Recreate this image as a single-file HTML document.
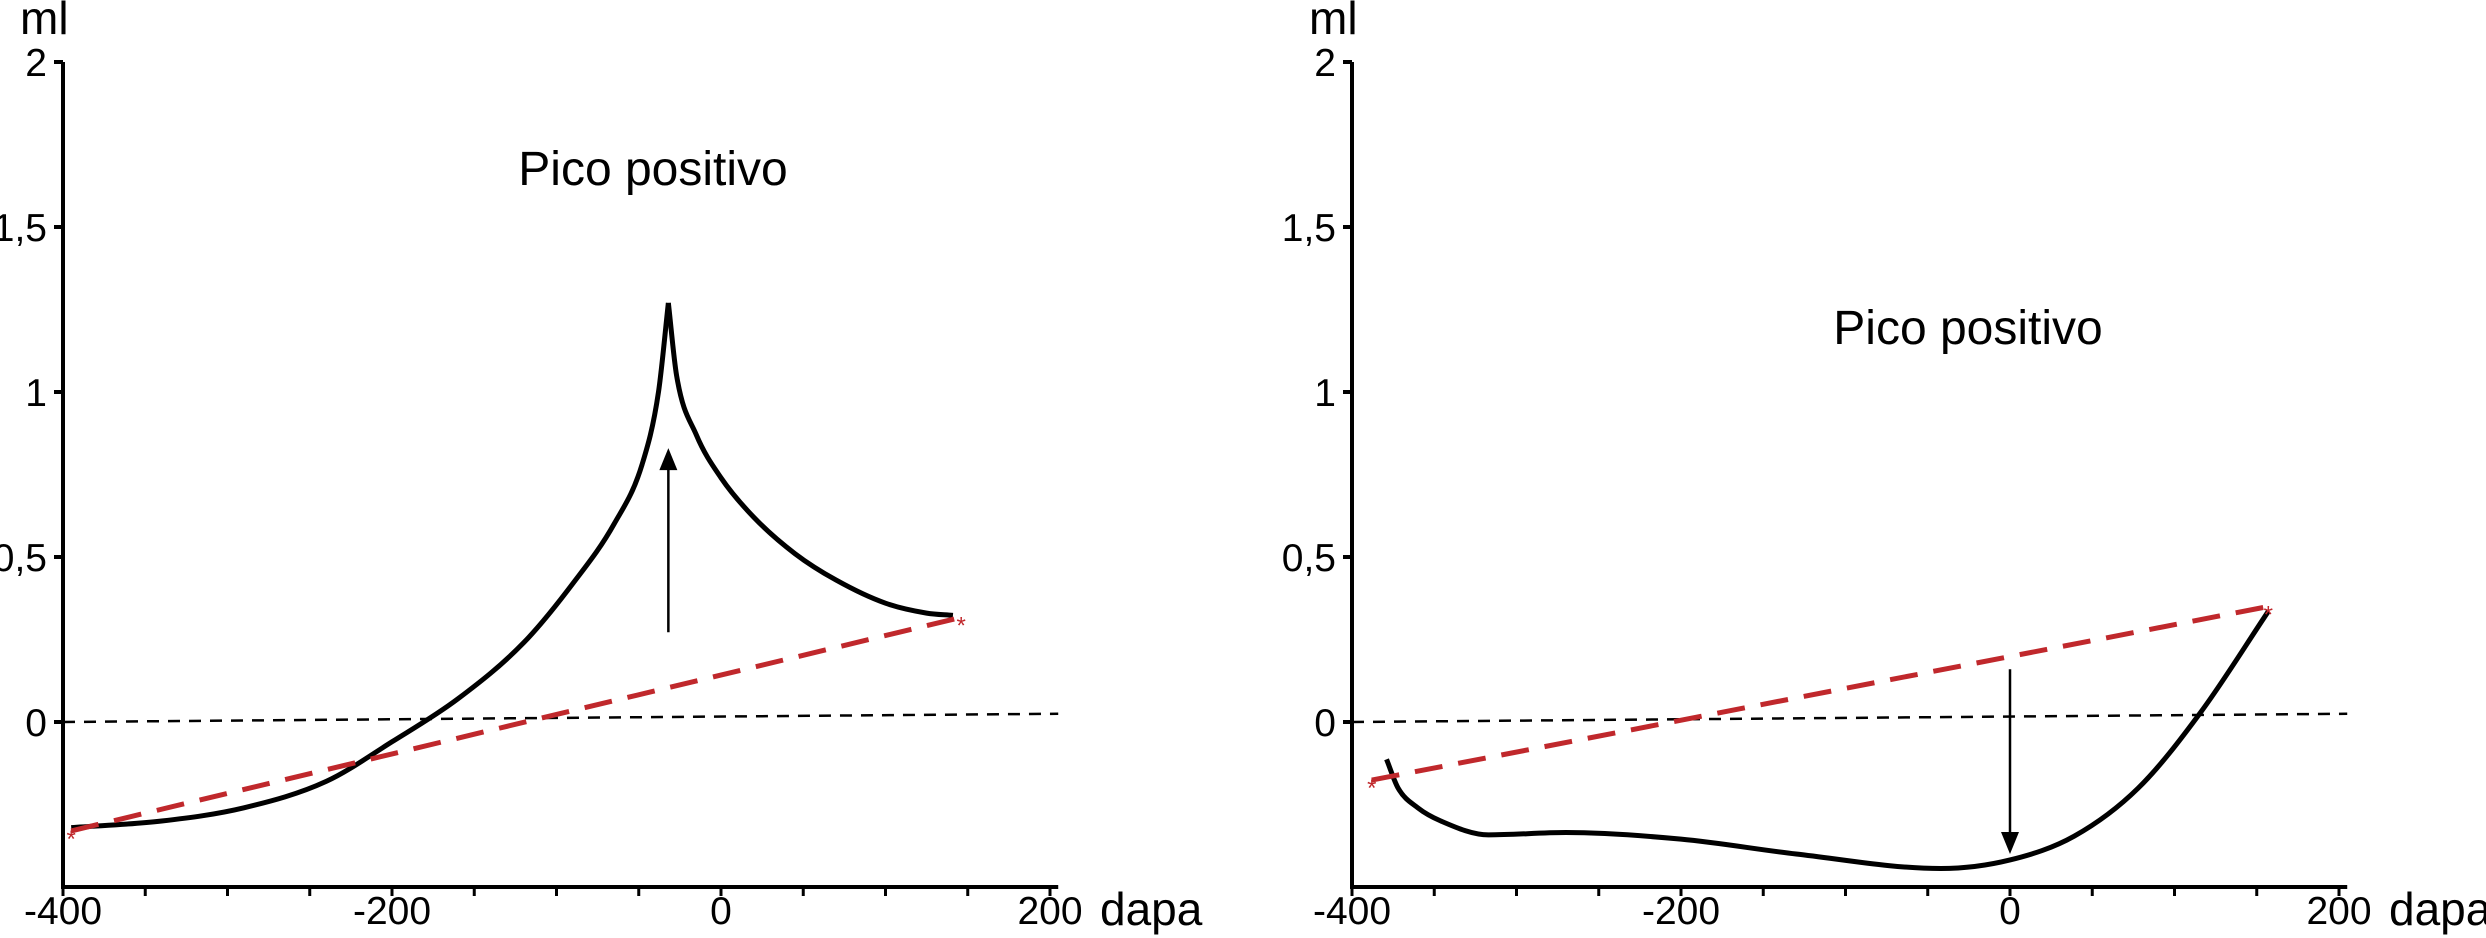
<!DOCTYPE html>
<html><head><meta charset="utf-8"><style>
html,body{margin:0;padding:0;background:#fff;}
svg{display:block;font-family:"Liberation Sans",Arial,sans-serif;}
</style></head><body>
<svg id="c" width="2486" height="938" viewBox="0 0 2486 938" xmlns="http://www.w3.org/2000/svg"></svg>
<script>
const xTicks=[-400,-350,-300,-250,-200,-150,-100,-50,0,50,100,150,200];
const xLabels=[-400,-200,0,200];
const yTicks=[2,1.5,1,0.5,0];
const yLabels=["2","1,5","1","0,5","0"];
const leftCurveA=[[-395,-0.32],[-340,-0.3],[-290,-0.26],[-240,-0.18],[-200,-0.06],[-160,0.07],[-120,0.24],[-90,0.42],[-65,0.6],[-48,0.78],[-38,1.0],[-32,1.27]];
const leftCurveB=[[-32,1.27],[-27,1.05],[-15,0.87],[0,0.74],[20,0.62],[45,0.51],[70,0.43],[100,0.36],[125,0.33],[141,0.323]];
const leftRed=[[-395,-0.33],[146,0.317]];
const leftArrow=[[-32,0.272],[-32,0.83]];
const rightCurve=[[-379,-0.113],[-372,-0.2],[-360,-0.26],[-346,-0.3],[-317,-0.342],[-270,-0.335],[-200,-0.355],[-130,-0.4],[-42,-0.444],[0,-0.418],[39,-0.346],[78,-0.2],[116,0.03],[157,0.335]];
const rightRed=[[-388,-0.176],[157,0.35]];
const rightArrow=[[0,0.16],[0,-0.4]];
const baseline=[[-400,0],[205,0.025]];
const panels=[{x0:63,title:[653,185],curves:[leftCurveA,leftCurveB],red:leftRed,arrow:leftArrow,name:'left'},
{x0:1352,title:[1968,344],curves:[rightCurve],red:rightRed,arrow:rightArrow,name:'right'}];
const NS='http://www.w3.org/2000/svg';
const svg=document.getElementById('c');
function mk(t,a,p){const e=document.createElementNS(NS,t);for(const k in a)e.setAttribute(k,a[k]);(p||svg).appendChild(e);return e;}
// monotone cubic (Fritsch-Carlson) in x, returns path
function mono(pts){const n=pts.length,xs=pts.map(p=>p[0]),ys=pts.map(p=>p[1]);const d=[],m=[];
for(let i=0;i<n-1;i++)d.push((ys[i+1]-ys[i])/(xs[i+1]-xs[i]));
m[0]=d[0];m[n-1]=d[n-2];for(let i=1;i<n-1;i++){m[i]=(d[i-1]*d[i]<=0)?0:(d[i-1]+d[i])/2;}
for(let i=0;i<n-1;i++){if(d[i]===0){m[i]=0;m[i+1]=0;continue;}const a=m[i]/d[i],b=m[i+1]/d[i],s=a*a+b*b;if(s>9){const t=3/Math.sqrt(s);m[i]=t*a*d[i];m[i+1]=t*b*d[i];}}
let p='M'+xs[0]+','+ys[0];for(let i=0;i<n-1;i++){const h=(xs[i+1]-xs[i])/3;p+=' C'+(xs[i]+h)+','+(ys[i]+m[i]*h)+' '+(xs[i+1]-h)+','+(ys[i+1]-m[i+1]*h)+' '+xs[i+1]+','+ys[i+1];}return p;}
panels.forEach(P=>{
 const sx=v=>P.x0+(v+400)*1.645, sy=v=>722-v*330;
 const g=mk('g',{});
 
 
 const ya=mk('line',{x1:sx(-400),y1:sy(2),x2:sx(-400),y2:sy(-0.5),stroke:'#000','stroke-width':4},g);
 
 const xa=mk('line',{x1:sx(-400)-2,y1:sy(-0.5),x2:sx(205),y2:sy(-0.5),stroke:'#000','stroke-width':4},g);
 
 yTicks.forEach((v,i)=>{
  const t=mk('line',{x1:sx(-400)-9,y1:sy(v),x2:sx(-400),y2:sy(v),stroke:'#000','stroke-width':4},g);
  
  const l=mk('text',{x:sx(-400)-16,y:sy(v)+14,'font-size':39,'text-anchor':'end'},g);l.textContent=yLabels[i];
  
 });
 xTicks.forEach(v=>{
  const t=mk('line',{x1:sx(v),y1:sy(-0.5),x2:sx(v),y2:sy(-0.5)+9,stroke:'#000','stroke-width':3},g);
  
 });
 xLabels.forEach(v=>{
  const l=mk('text',{x:sx(v),y:924,'font-size':39,'text-anchor':'middle'},g);l.textContent=String(v);
  
 });
 const ml=mk('text',{x:sx(-400)-43,y:34,'font-size':46},g);ml.textContent='ml';
 
 const dp=mk('text',{x:sx(200)+50,y:925,'font-size':46},g);dp.textContent='dapa';
 
 const ti=mk('text',{x:P.title[0],y:P.title[1],'font-size':48,'text-anchor':'middle'},g);ti.textContent='Pico positivo';
 
 const bl=mk('line',{x1:sx(baseline[0][0]),y1:sy(baseline[0][1]),x2:sx(baseline[1][0]),y2:sy(baseline[1][1]),stroke:'#000','stroke-width':2.5,'stroke-dasharray':'12,9'},g);
 
 P.curves.forEach(c=>{
  const p=mk('path',{d:mono(c.map(q=>[sx(q[0]),sy(q[1])])),fill:'none',stroke:'#000','stroke-width':5,'stroke-linejoin':'round'},g);
  
 });
 const r=mk('line',{x1:sx(P.red[0][0]),y1:sy(P.red[0][1]),x2:sx(P.red[1][0]),y2:sy(P.red[1][1]),stroke:'#c0282c','stroke-width':5,'stroke-dasharray':'28,16'},g);
 
 P.red.forEach(q=>{
  const s=mk('text',{x:sx(q[0]),y:sy(q[1])+16,'font-size':24,fill:'#c0282c','text-anchor':'middle'},g);s.textContent='*';
  
 });
 const a0=[sx(P.arrow[0][0]),sy(P.arrow[0][1])],a1=[sx(P.arrow[1][0]),sy(P.arrow[1][1])];
 const dir=a1[1]<a0[1]?1:-1;
 const al=mk('line',{x1:a0[0],y1:a0[1],x2:a1[0],y2:a1[1]+dir*18,stroke:'#000','stroke-width':2.5},g);
 
 const ah=mk('polygon',{points:`${a1[0]},${a1[1]} ${a1[0]-9},${a1[1]+dir*22} ${a1[0]+9},${a1[1]+dir*22}`,fill:'#000'},g);
 
});
</script>
</body></html>
